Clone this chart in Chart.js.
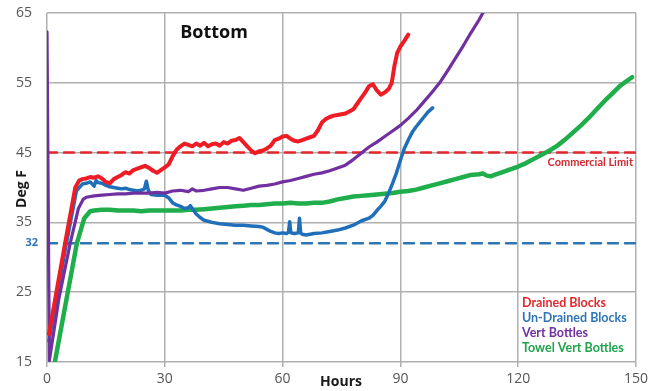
<!DOCTYPE html>
<html>
<head>
<meta charset="utf-8">
<script src="https://cdn.jsdelivr.net/npm/chart.js@4.4.1/dist/chart.umd.min.js"></script>
<style>
  html, body { margin: 0; padding: 0; background: #ffffff; }
  #wrap { width: 663px; height: 391px; position: relative; }
</style>
</head>
<body>
<div id="wrap"><canvas id="chart" width="663" height="391"></canvas></div>
<script>
// Bottom temperature logs (Deg F) against elapsed hours
const seriesNames = ['Drained Blocks', 'Un-Drained Blocks', 'Vert Bottles', 'Towel Vert Bottles'];

const drainedHours = [0.5, 4.6, 7.2, 8.2, 9, 10, 11, 12, 13, 14, 15, 16, 17, 18, 19, 20, 21, 22, 23, 24, 25, 26, 27, 28, 29, 30, 31, 32, 33, 34, 35, 36, 37, 38, 39, 40, 41, 42, 43, 44, 45, 46, 47, 48, 49, 50, 51, 52, 53, 54, 55, 56, 57, 58, 59, 60, 61, 62, 63, 64, 65, 66, 67, 68, 69, 70, 71, 72, 73, 74, 75, 76, 77, 78, 79, 80, 81, 82, 83, 84, 85, 86, 87, 87.8, 88.5, 89.2, 90, 91, 92];
const drainedTemps = [19.0, 32.0, 40.0, 41.0, 41.2, 41.3, 41.5, 41.4, 41.6, 41.3, 40.8, 40.6, 41.2, 41.5, 41.8, 42.2, 42.0, 42.5, 42.7, 42.9, 43.1, 42.8, 42.4, 42.1, 42.5, 42.9, 43.3, 44.5, 45.4, 45.9, 46.3, 46.1, 45.9, 46.3, 46.0, 46.4, 45.9, 46.2, 46.3, 46.0, 46.5, 46.3, 46.7, 46.8, 47.1, 46.5, 45.9, 45.3, 44.9, 45.2, 45.3, 45.6, 46.0, 46.8, 47.0, 47.3, 47.4, 47.0, 46.7, 46.6, 46.8, 47.0, 47.2, 47.4, 48.2, 49.3, 49.8, 50.1, 50.3, 50.4, 50.5, 50.6, 50.9, 51.2, 52.0, 52.8, 53.6, 54.5, 54.8, 53.9, 53.3, 53.6, 54.1, 55.0, 57.5, 59.3, 60.2, 61.0, 61.9];

const undrainedHours = [0.5, 4.6, 7.5, 9, 10, 11, 12, 12.5, 13, 14, 15, 16, 17, 18, 19, 20, 21, 22, 23, 24, 24.8, 25.3, 25.8, 26.5, 28, 30, 31, 32, 33, 34, 35, 36, 36.5, 37, 38, 39, 40, 42, 44, 46, 48, 50, 52, 54, 55, 56, 57, 58, 59, 60, 61, 61.5, 61.8, 62.1, 63, 64, 64.3, 64.6, 65, 66, 68, 70, 72, 74, 76, 78, 80, 82, 83, 84, 85, 86, 87, 88, 89, 90, 91, 92, 93, 94, 95, 96, 97, 98.2];
const undrainedTemps = [18.0, 31.0, 39.5, 40.5, 40.6, 40.8, 40.2, 41.0, 40.7, 40.6, 40.3, 40.1, 40.0, 39.9, 39.8, 39.9, 39.7, 39.6, 39.5, 39.6, 39.8, 40.9, 39.6, 39.0, 38.9, 38.9, 38.5, 37.8, 37.5, 37.3, 37.0, 37.1, 37.4, 37.0, 36.2, 35.7, 35.3, 35.0, 34.8, 34.7, 34.6, 34.6, 34.5, 34.4, 34.3, 34.0, 33.7, 33.5, 33.4, 33.5, 33.4, 33.6, 35.1, 33.5, 33.4, 33.5, 35.6, 33.5, 33.3, 33.2, 33.4, 33.5, 33.7, 33.9, 34.2, 34.6, 35.2, 35.6, 36.0, 36.7, 37.3, 38.0, 39.2, 40.6, 42.1, 43.9, 45.6, 46.8, 47.9, 48.7, 49.4, 50.1, 50.8, 51.4];

const vertHours = [0, 0.6, 3, 5.9, 8, 9.2, 10, 12, 14, 16, 18, 20, 22, 24, 26, 28, 30, 32, 34, 36, 37, 38, 40, 42, 44, 46, 48, 50, 52, 54, 56, 58, 60, 62, 64, 66, 68, 70, 72, 74, 76, 78, 80, 82, 84, 86, 88, 90, 92, 94, 96, 98, 100, 102, 104, 106, 108, 110, 111.2];
const vertTemps = [62.3, 15.2, 24.0, 32.0, 37.0, 38.3, 38.6, 38.8, 38.9, 39.0, 39.1, 39.1, 39.2, 39.2, 39.2, 39.3, 39.2, 39.5, 39.6, 39.4, 39.8, 39.5, 39.6, 39.8, 40.0, 40.0, 39.8, 39.6, 39.9, 40.2, 40.3, 40.5, 40.8, 41.0, 41.3, 41.6, 41.9, 42.1, 42.4, 42.8, 43.2, 44.0, 44.9, 45.8, 46.5, 47.3, 48.1, 48.9, 49.9, 51.0, 52.3, 53.6, 55.0, 56.7, 58.5, 60.3, 62.2, 64.0, 65.2];

const towelHours = [2, 7.6, 9.5, 11, 12, 14, 16, 18, 20, 22, 24, 26, 28, 30, 32, 34, 36, 38, 40, 42, 44, 46, 48, 50, 52, 54, 56, 58, 60, 62, 64, 66, 68, 70, 72, 74, 76, 78, 80, 82, 84, 86, 88, 90, 92, 94, 96, 98, 100, 102, 104, 106, 108, 110, 111, 112, 113, 114, 116, 118, 120, 122, 124, 126, 128, 130, 132, 134, 136, 138, 140, 142, 144, 146, 148, 149];
const towelTemps = [15.0, 32.0, 35.6, 36.6, 36.7, 36.8, 36.8, 36.7, 36.7, 36.7, 36.6, 36.7, 36.7, 36.7, 36.7, 36.7, 36.8, 36.8, 36.9, 37.0, 37.1, 37.2, 37.3, 37.4, 37.5, 37.5, 37.6, 37.7, 37.7, 37.8, 37.7, 37.7, 37.8, 37.8, 38.0, 38.3, 38.5, 38.7, 38.8, 38.9, 39.0, 39.1, 39.2, 39.4, 39.5, 39.7, 40.0, 40.3, 40.6, 40.9, 41.2, 41.5, 41.8, 41.9, 42.0, 41.7, 41.6, 41.8, 42.2, 42.6, 43.0, 43.5, 44.1, 44.7, 45.3, 46.0, 46.9, 47.9, 48.9, 50.0, 51.2, 52.4, 53.5, 54.6, 55.4, 55.8];

// Reference levels and axis ticks
const commercialLimit = 45;
const freezeLine = 32;
const hourTicks = [0, 30, 60, 90, 120, 150];
const tempTicks = [15, 25, 35, 45, 55, 65];

const lineColors = ['#ee1c24', '#1f6fb9', '#7030a0', '#1fae4b'];
const labelColors = ['#e02a30', '#2e75b6', '#7030a0', '#22a34e'];

function pts(xs, ys) { return xs.map((x, i) => ({ x: x, y: ys[i] })); }

const hLine = (v) => [{ x: hourTicks[0], y: v }, { x: hourTicks[hourTicks.length - 1], y: v }];

const textPlugin = {
  id: 'chartText',
  afterDatasetsDraw(chart) {
    const { ctx, scales } = chart;
    ctx.save();
    // title
    ctx.fillStyle = '#111';
    ctx.font = 'bold 18px "Open Sans"';
    ctx.textAlign = 'center';
    ctx.textBaseline = 'middle';
    ctx.fillText('Bottom', 214, 33);

    // axis titles
    ctx.font = 'bold 14px "Open Sans"';
    ctx.fillStyle = '#1a1a1a';
    ctx.fillText('Hours', 341, 382);
    ctx.save();
    ctx.translate(22, 189);
    ctx.rotate(-Math.PI / 2);
    ctx.fillText('Deg F', 0, 0);
    ctx.restore();

    // reference labels
    ctx.font = 'bold 11px "Open Sans"';
    ctx.fillStyle = '#2e75b6';
    ctx.textAlign = 'right';
    ctx.fillText(String(freezeLine), 38, scales.y.getPixelForValue(freezeLine));
    ctx.font = 'bold 11px Lato';
    ctx.fillStyle = '#d22a30';
    ctx.fillText('Commercial Limit', 633, scales.y.getPixelForValue(commercialLimit) + 10);

    // legend as coloured text
    ctx.textAlign = 'left';
    ctx.font = 'bold 12.5px Lato';
    seriesNames.forEach((name, i) => {
      ctx.fillStyle = labelColors[i];
      ctx.fillText(name, 522, 303 + i * 15);
    });
    ctx.restore();
  }
};

new Chart(document.getElementById('chart'), {
  type: 'line',
  data: {
    datasets: [
      { label: seriesNames[0], data: pts(drainedHours, drainedTemps), borderColor: lineColors[0], borderWidth: 4, order: 1 },
      { label: seriesNames[2], data: pts(vertHours, vertTemps), borderColor: lineColors[2], borderWidth: 3.2, order: 2 },
      { label: seriesNames[1], data: pts(undrainedHours, undrainedTemps), borderColor: lineColors[1], borderWidth: 3.5, order: 3 },
      { label: seriesNames[3], data: pts(towelHours, towelTemps), borderColor: lineColors[3], borderWidth: 4.5, order: 4 },
      { label: 'Commercial Limit', data: hLine(commercialLimit), borderColor: '#e3262b', borderWidth: 2.5, borderDash: [10, 7], order: 5 },
      { label: '32', data: hLine(freezeLine), borderColor: '#2e75b6', borderWidth: 2.5, borderDash: [10, 7], order: 6 }
    ]
  },
  options: {
    responsive: false,
    animation: false,
    events: [],
    layout: { padding: { top: 13, right: 27, left: 0, bottom: 0 } },
    elements: {
      point: { radius: 0 },
      line: { tension: 0, borderJoinStyle: 'round', borderCapStyle: 'round', fill: false }
    },
    plugins: { legend: { display: false }, tooltip: { enabled: false }, title: { display: false } },
    scales: {
      x: {
        type: 'linear',
        min: 0, max: 150,
        afterFit: (s) => { s.height = 29; s.paddingLeft = 0; s.paddingRight = 0; },
        afterBuildTicks: (s) => { s.ticks = hourTicks.map(v => ({ value: v })); },
        grid: { color: '#b0b0b0', lineWidth: 1.5, drawTicks: true, tickLength: 5 },
        border: { display: false },
        ticks: { color: '#555', font: { family: 'Open Sans', size: 14 }, padding: 4, maxRotation: 0 }
      },
      y: {
        type: 'linear',
        min: 15, max: 65,
        afterFit: (s) => { s.width = 47; s.paddingTop = 0; s.paddingBottom = 0; },
        afterBuildTicks: (s) => { s.ticks = tempTicks.map(v => ({ value: v })); },
        grid: { color: '#b0b0b0', lineWidth: 1.5, drawTicks: false },
        border: { display: false },
        ticks: { color: '#555', font: { family: 'Open Sans', size: 14 }, padding: 15 }
      }
    }
  },
  plugins: [textPlugin]
});
</script>
</body>
</html>
